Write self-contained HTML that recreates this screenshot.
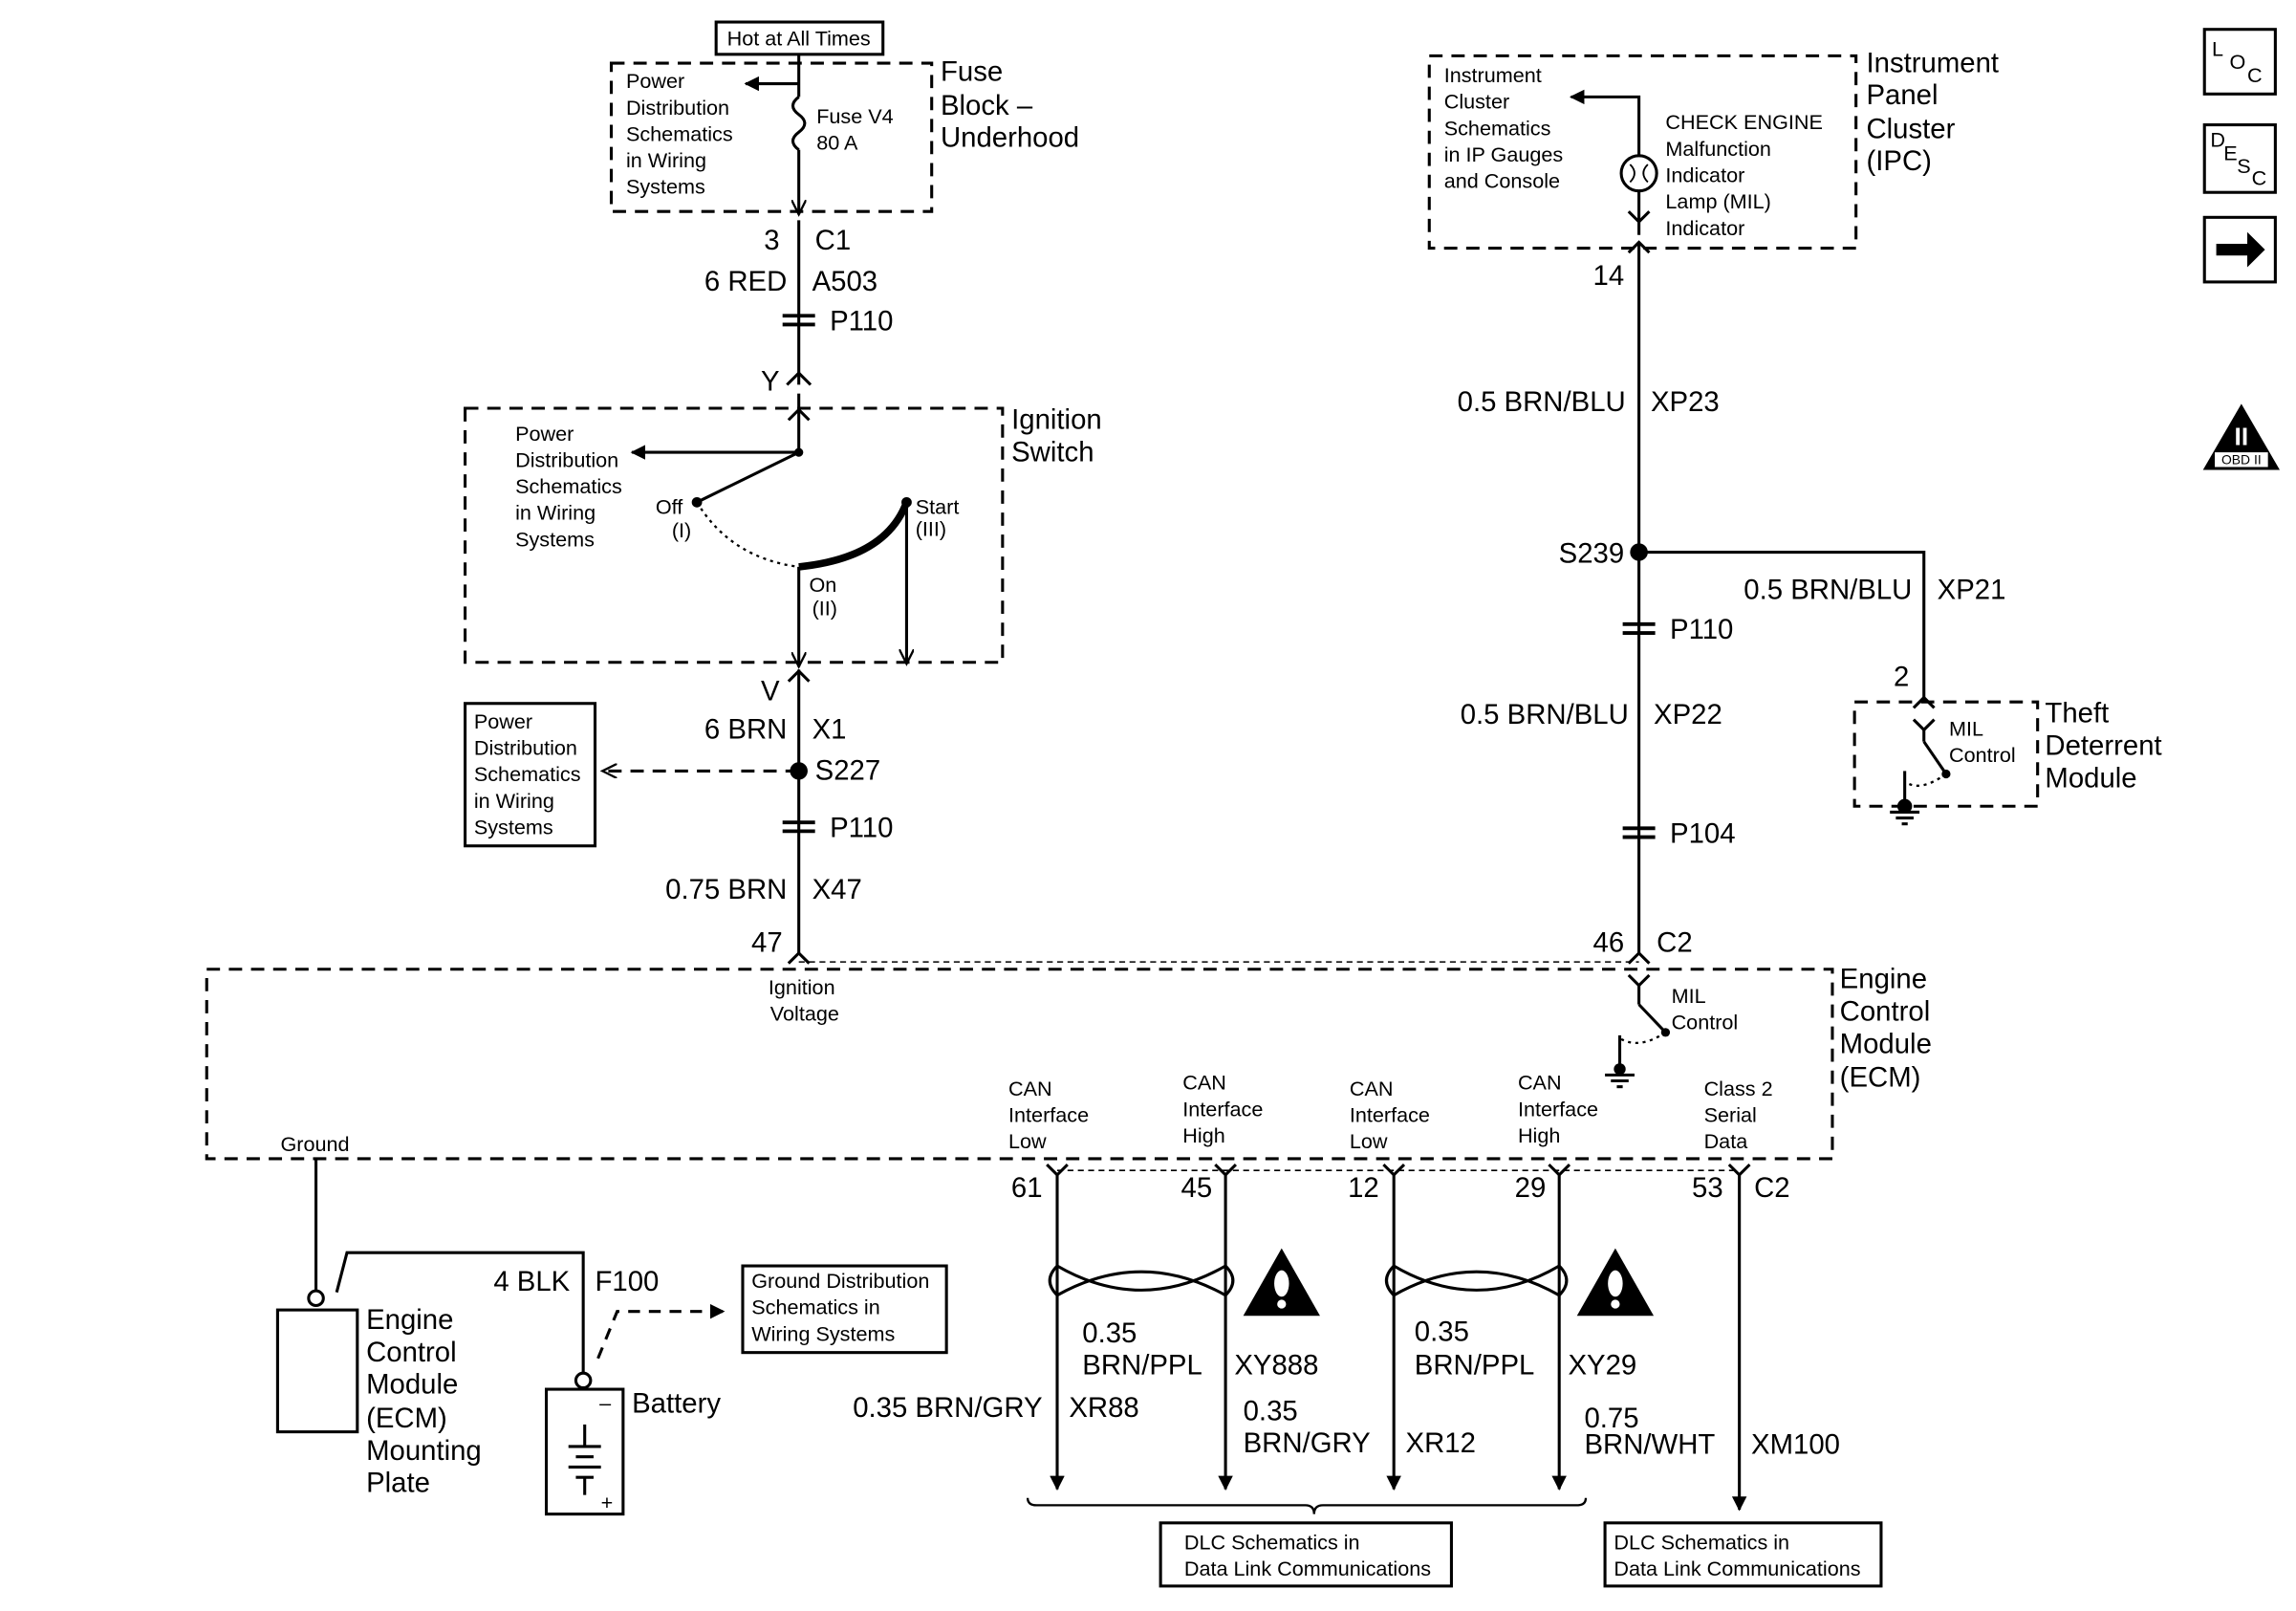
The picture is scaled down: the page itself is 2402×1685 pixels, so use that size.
<!DOCTYPE html>
<html><head><meta charset="utf-8"><style>
html,body{margin:0;padding:0;background:#fff;}
svg{display:block;}
text{font-family:"Liberation Sans",Arial,sans-serif;fill:#000;}
.s{font-size:14px;}
.m{font-size:19px;}
</style></head><body>
<svg width="2402" height="1685" viewBox="0 0 1555 1097" preserveAspectRatio="none" xmlns="http://www.w3.org/2000/svg">
<defs>
<marker id="a" markerWidth="10" markerHeight="10" refX="9" refY="5" orient="auto" markerUnits="userSpaceOnUse"><path d="M0,0 L10,5 L0,10 z" fill="#000"/></marker>
<marker id="v" markerWidth="12" markerHeight="10" refX="10" refY="5" orient="auto" markerUnits="userSpaceOnUse"><path d="M0,0 L10,5 L0,10" fill="none" stroke="#000" stroke-width="1.5"/></marker>
</defs>
<g fill="none" stroke="#000" stroke-width="2">
<!-- Fuse block -->
<rect x="485" y="15" width="113" height="22"/>
<rect x="414" y="43" width="217" height="101" stroke-dasharray="9,6"/>
<line x1="541" y1="37" x2="541" y2="66"/>
<line x1="541" y1="57" x2="505" y2="57" marker-end="url(#a)"/>
<path d="M541,66 q-8,6 0,12 q8,6 0,12 q-8,6 0,12"/>
<line x1="541" y1="102" x2="541" y2="146" marker-end="url(#v)"/>
<line x1="541" y1="150" x2="541" y2="262"/>
<path d="M533,262 l8,-8 l8,8"/>
<!-- P110 -->
<g stroke-width="2.5"><line x1="530" y1="215" x2="552" y2="215"/><line x1="530" y1="221" x2="552" y2="221"/></g>
<!-- Ignition -->
<rect x="315" y="278" width="364" height="173" stroke-dasharray="9,6"/>
<line x1="541" y1="268" x2="541" y2="308"/>
<path d="M534,286 l7,-7 l7,7"/>
<line x1="541" y1="308" x2="428" y2="308" marker-end="url(#a)"/>
<line x1="541" y1="308" x2="472" y2="342"/>
<path d="M472,342 Q495,380 541,386" stroke-dasharray="2,3" stroke-width="1.5"/>
<path d="M541,386 Q600,380 614,342" stroke-width="5"/>
<line x1="541" y1="386" x2="541" y2="454" marker-end="url(#v)"/>
<line x1="614" y1="342" x2="614" y2="452" marker-end="url(#v)"/>
<line x1="541" y1="456" x2="541" y2="650"/>
<path d="M534,464 l7,-7 l7,7"/>
<line x1="541" y1="525" x2="408" y2="525" stroke-dasharray="9,6" marker-end="url(#v)"/>
<rect x="315" y="479" width="88" height="97"/>
<g stroke-width="2.5"><line x1="530" y1="560" x2="552" y2="560"/><line x1="530" y1="566" x2="552" y2="566"/></g>
<path d="M534,656 l7,-7 l7,7"/>
<line x1="541" y1="655" x2="1110" y2="655" stroke-dasharray="4,3" stroke-width="1"/>
<!-- ECM -->
<rect x="140" y="660" width="1101" height="129" stroke-dasharray="9,6"/>
<line x1="716" y1="797" x2="1178" y2="797" stroke-dasharray="4,3" stroke-width="1"/>
<line x1="214" y1="789" x2="214" y2="879"/>
<circle cx="214" cy="884" r="5"/>
<rect x="188" y="892" width="54" height="83"/>
<polyline points="228,880 235,853 395,853 395,935"/>
<circle cx="395" cy="940" r="5"/>
<polyline points="405,925 418,893 490,893" stroke-dasharray="8,6" marker-end="url(#a)"/>
<rect x="503" y="862" width="138" height="59"/>
<rect x="370" y="946" width="52" height="85"/>
<line x1="385" y1="985" x2="407" y2="985"/><line x1="390" y1="992" x2="402" y2="992"/>
<line x1="385" y1="999" x2="407" y2="999"/><line x1="390" y1="1006" x2="402" y2="1006"/>
<line x1="396" y1="970" x2="396" y2="985"/><line x1="396" y1="1006" x2="396" y2="1018"/>
<!-- IPC -->
<rect x="968" y="38" width="289" height="131" stroke-dasharray="9,6"/>
<polyline points="1110,106 1110,66 1064,66" marker-end="url(#a)"/>
<circle cx="1110" cy="118" r="12"/>
<path d="M1104,112 q6,6 0,12 M1116,112 q-6,6 0,12" stroke-width="1.2"/>
<line x1="1110" y1="130" x2="1110" y2="160"/>
<path d="M1103,144 l7,7 l7,-7 M1103,172 l7,-7 l7,7"/>
<line x1="1110" y1="166" x2="1110" y2="650"/>
<polyline points="1110,376 1303,376 1303,478"/>
<path d="M1296,482 l7,-7 l7,7 M1296,490 l7,7 l7,-7"/>
<g stroke-width="2.5"><line x1="1099" y1="425" x2="1121" y2="425"/><line x1="1099" y1="431" x2="1121" y2="431"/>
<line x1="1099" y1="564" x2="1121" y2="564"/><line x1="1099" y1="570" x2="1121" y2="570"/></g>
<path d="M1103,656 l7,-7 l7,7 M1103,664 l7,7 l7,-7"/>
<!-- Theft -->
<rect x="1256" y="478" width="124" height="71" stroke-dasharray="9,6"/>
<line x1="1303" y1="497" x2="1303" y2="505"/>
<line x1="1303" y1="505" x2="1318" y2="527"/>
<path d="M1318,527 Q1300,540 1290,532" stroke-dasharray="2,3" stroke-width="1.5"/>
<line x1="1290" y1="525" x2="1290" y2="549"/>
<line x1="1280" y1="553" x2="1300" y2="553"/><line x1="1284" y1="557" x2="1296" y2="557"/><line x1="1288" y1="561" x2="1292" y2="561"/>
<!-- ECM MIL -->
<line x1="1110" y1="671" x2="1110" y2="684"/>
<line x1="1110" y1="684" x2="1128" y2="703"/>
<path d="M1128,703 Q1110,715 1097,707" stroke-dasharray="2,3" stroke-width="1.5"/>
<line x1="1097" y1="705" x2="1097" y2="728"/>
<line x1="1087" y1="732" x2="1107" y2="732"/><line x1="1091" y1="736" x2="1103" y2="736"/><line x1="1095" y1="740" x2="1099" y2="740"/>
<!-- Pins -->
<g>
<path d="M709,793 l7,7 l7,-7 M823,793 l7,7 l7,-7 M937,793 l7,7 l7,-7 M1049,793 l7,7 l7,-7 M1171,793 l7,7 l7,-7"/>
<line x1="716" y1="800" x2="716" y2="1014" marker-end="url(#a)"/>
<line x1="830" y1="800" x2="830" y2="1014" marker-end="url(#a)"/>
<line x1="944" y1="800" x2="944" y2="1014" marker-end="url(#a)"/>
<line x1="1056" y1="800" x2="1056" y2="1014" marker-end="url(#a)"/>
<line x1="1178" y1="800" x2="1178" y2="1028" marker-end="url(#a)"/>
</g>
<path d="M716,862 Q773,895 830,862 M716,882 Q773,850 830,882 M716,862 Q706,872 716,882 M830,862 Q840,872 830,882"/>
<path d="M944,862 Q1000,895 1056,862 M944,882 Q1000,850 1056,882 M944,862 Q934,872 944,882 M1056,862 Q1066,872 1056,882"/>
<path d="M696,1020 q0,5 6,5 L884,1025 q6,0 6,6 q0,-6 6,-6 L1068,1025 q6,0 6,-5" stroke-width="1.5"/>
<rect x="786" y="1037" width="197" height="43"/>
<rect x="1087" y="1037" width="187" height="43"/>
<!-- icons -->
<rect x="1493" y="20" width="48" height="44"/>
<rect x="1493" y="85" width="48" height="46"/>
<rect x="1493" y="148" width="48" height="44"/>
</g>
<!-- filled items -->
<g fill="#000">
<circle cx="541" cy="308" r="3"/><circle cx="472" cy="342" r="3.5"/><circle cx="614" cy="342" r="3.5"/>
<circle cx="541" cy="525" r="6"/><circle cx="1110" cy="376" r="6"/>
<circle cx="1318" cy="527" r="3"/><circle cx="1290" cy="549" r="5"/>
<circle cx="1128" cy="703" r="3"/><circle cx="1097" cy="728" r="4"/>
<path d="M868,850 L894,896 L842,896 z"/><path d="M1094,850 L1120,896 L1068,896 z"/>
<path d="M1501,166 L1522,166 L1522,158 L1534,170 L1522,182 L1522,174 L1501,174 z"/>
<path d="M1518,275 L1544,320 L1492,320 z"/>
</g>
<g fill="#fff"><ellipse cx="868" cy="874" rx="5" ry="9"/><circle cx="868" cy="888" r="3"/>
<ellipse cx="1094" cy="874" rx="5" ry="9"/><circle cx="1094" cy="888" r="3"/>
<rect x="1500" y="308" width="36" height="10"/></g>
<text x="1518" y="303" text-anchor="middle" style="font-size:17px;fill:#fff;font-weight:bold">II</text>
<text x="1518" y="316" text-anchor="middle" style="font-size:9px">OBD II</text>
<text x="1498" y="38" class="s">L</text><text x="1510" y="47" class="s">O</text><text x="1522" y="56" class="s">C</text>
<text x="1497" y="100" class="s">D</text><text x="1506" y="109" class="s">E</text><text x="1515" y="118" class="s">S</text><text x="1525" y="126" class="s">C</text>
<!-- Texts -->
<g class="s">
<text x="541" y="31" text-anchor="middle">Hot at All Times</text>
<text x="424" y="60">Power</text><text x="424" y="78">Distribution</text><text x="424" y="96">Schematics</text><text x="424" y="114">in Wiring</text><text x="424" y="132">Systems</text>
<text x="553" y="84">Fuse V4</text><text x="553" y="102">80 A</text>
<text x="349" y="300">Power</text><text x="349" y="318">Distribution</text><text x="349" y="336">Schematics</text><text x="349" y="354">in Wiring</text><text x="349" y="372">Systems</text>
<text x="444" y="350">Off</text><text x="455" y="366">(I)</text>
<text x="620" y="350">Start</text><text x="620" y="365">(III)</text>
<text x="548" y="403">On</text><text x="550" y="419">(II)</text>
<text x="321" y="496">Power</text><text x="321" y="514">Distribution</text><text x="321" y="532">Schematics</text><text x="321" y="550">in Wiring</text><text x="321" y="568">Systems</text>
<text x="543" y="677" text-anchor="middle">Ignition</text><text x="545" y="695" text-anchor="middle">Voltage</text>
<text x="190" y="784">Ground</text>
<text x="509" y="877">Ground Distribution</text><text x="509" y="895">Schematics in</text><text x="509" y="913">Wiring Systems</text>
<text x="978" y="56">Instrument</text><text x="978" y="74">Cluster</text><text x="978" y="92">Schematics</text><text x="978" y="110">in IP Gauges</text><text x="978" y="128">and Console</text>
<text x="1128" y="88">CHECK ENGINE</text><text x="1128" y="106">Malfunction</text><text x="1128" y="124">Indicator</text><text x="1128" y="142">Lamp (MIL)</text><text x="1128" y="160">Indicator</text>
<text x="1320" y="501">MIL</text><text x="1320" y="519">Control</text>
<text x="1132" y="683">MIL</text><text x="1132" y="701">Control</text>
<text x="683" y="746">CAN</text><text x="683" y="764">Interface</text><text x="683" y="782">Low</text>
<text x="801" y="742">CAN</text><text x="801" y="760">Interface</text><text x="801" y="778">High</text>
<text x="914" y="746">CAN</text><text x="914" y="764">Interface</text><text x="914" y="782">Low</text>
<text x="1028" y="742">CAN</text><text x="1028" y="760">Interface</text><text x="1028" y="778">High</text>
<text x="1154" y="746">Class 2</text><text x="1154" y="764">Serial</text><text x="1154" y="782">Data</text>
<text x="802" y="1055">DLC Schematics in</text><text x="802" y="1073">Data Link Communications</text>
<text x="1093" y="1055">DLC Schematics in</text><text x="1093" y="1073">Data Link Communications</text>
<text x="406" y="960">–</text><text x="407" y="1028">+</text>
</g>
<g class="m">
<text x="637" y="55">Fuse</text><text x="637" y="78">Block –</text><text x="637" y="100">Underhood</text>
<text x="528" y="170" text-anchor="end">3</text><text x="552" y="170">C1</text>
<text x="533" y="198" text-anchor="end">6 RED</text><text x="550" y="198">A503</text>
<text x="562" y="225">P110</text>
<text x="528" y="266" text-anchor="end">Y</text>
<text x="685" y="292">Ignition</text><text x="685" y="314">Switch</text>
<text x="528" y="477" text-anchor="end">V</text>
<text x="533" y="503" text-anchor="end">6 BRN</text><text x="550" y="503">X1</text>
<text x="552" y="531">S227</text>
<text x="562" y="570">P110</text>
<text x="533" y="612" text-anchor="end">0.75 BRN</text><text x="550" y="612">X47</text>
<text x="530" y="648" text-anchor="end">47</text>
<text x="1246" y="673">Engine</text><text x="1246" y="695">Control</text><text x="1246" y="717">Module</text><text x="1246" y="740">(ECM)</text>
<text x="248" y="905">Engine</text><text x="248" y="927">Control</text><text x="248" y="949">Module</text><text x="248" y="972">(ECM)</text><text x="248" y="994">Mounting</text><text x="248" y="1016">Plate</text>
<text x="386" y="879" text-anchor="end">4 BLK</text><text x="403" y="879">F100</text>
<text x="428" y="962">Battery</text>
<text x="1264" y="49">Instrument</text><text x="1264" y="71">Panel</text><text x="1264" y="94">Cluster</text><text x="1264" y="116">(IPC)</text>
<text x="1100" y="194" text-anchor="end">14</text>
<text x="1101" y="280" text-anchor="end">0.5 BRN/BLU</text><text x="1118" y="280">XP23</text>
<text x="1100" y="383" text-anchor="end">S239</text>
<text x="1295" y="408" text-anchor="end">0.5 BRN/BLU</text><text x="1312" y="408">XP21</text>
<text x="1131" y="435">P110</text>
<text x="1103" y="493" text-anchor="end">0.5 BRN/BLU</text><text x="1120" y="493">XP22</text>
<text x="1131" y="574">P104</text>
<text x="1100" y="648" text-anchor="end">46</text><text x="1122" y="648">C2</text>
<text x="1293" y="467" text-anchor="end">2</text>
<text x="1385" y="492">Theft</text><text x="1385" y="514">Deterrent</text><text x="1385" y="536">Module</text>
<text x="706" y="815" text-anchor="end">61</text><text x="821" y="815" text-anchor="end">45</text><text x="934" y="815" text-anchor="end">12</text><text x="1047" y="815" text-anchor="end">29</text><text x="1167" y="815" text-anchor="end">53</text><text x="1188" y="815">C2</text>
<text x="733" y="914">0.35</text><text x="733" y="936">BRN/PPL</text><text x="836" y="936">XY888</text>
<text x="706" y="965" text-anchor="end">0.35 BRN/GRY</text><text x="724" y="965">XR88</text>
<text x="842" y="967">0.35</text><text x="842" y="989">BRN/GRY</text><text x="952" y="989">XR12</text>
<text x="958" y="913">0.35</text><text x="958" y="936">BRN/PPL</text><text x="1062" y="936">XY29</text>
<text x="1073" y="972">0.75</text><text x="1073" y="990">BRN/WHT</text><text x="1186" y="990">XM100</text>
</g>
</svg>
</body></html>
